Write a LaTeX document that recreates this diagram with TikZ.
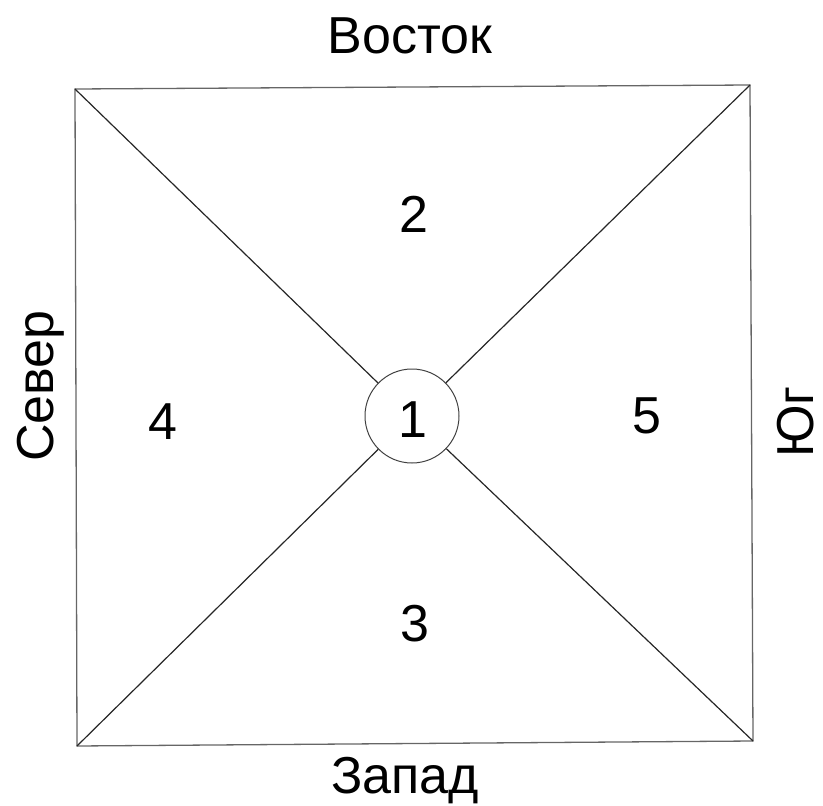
\documentclass[tikz,border=0pt]{standalone}
\usepackage{fontspec}
\setmainfont{Liberation Sans}
\usepackage{tikz}
\tikzset{
    lbl/.style={anchor=base, inner sep=0pt, font=\fontsize{52}{60}\selectfont},
    num/.style={anchor=base, inner sep=0pt, font=\fontsize{52}{60}\selectfont},
    hub/.style={draw=black!75, circle, line width=1pt, minimum size=94pt, inner sep=0pt},
    wall/.style={draw=black!60, line width=1.3pt},
    diag/.style={draw=black!85, line width=1.2pt}
}
\begin{document}
\begin{tikzpicture}[x=1pt, y=-1pt]
        \useasboundingbox (0,0) rectangle (823,806);

        \coordinate (tl) at (75,89);
        \coordinate (tr) at (750,85);
        \coordinate (br) at (753,741);
        \coordinate (bl) at (77,746);
        \node[hub] (c) at (412,416) {};

        \draw[wall] (tl) -- (tr) -- (br) -- (bl) -- cycle;
        \draw[diag] (tl) -- (c);
        \draw[diag] (tr) -- (c);
        \draw[diag] (bl) -- (c);
        \draw[diag] (br) -- (c);

        \node[lbl] (east) at (410,53) {Восток};
        \node[lbl] (west) at (405,793) {Запад};
        \node[lbl, rotate=90] (north) at (53,386) {Север};
        \node[lbl, rotate=90] (south) at (813,422) {Юг};

        \node[num] (n1) at (413,437) {1};
        \node[num] (n2) at (414,232) {2};
        \node[num] (n3) at (415,641) {3};
        \node[num] (n4) at (163,439) {4};
        \node[num] (n5) at (647,433) {5};
    \end{tikzpicture}
\end{document}
